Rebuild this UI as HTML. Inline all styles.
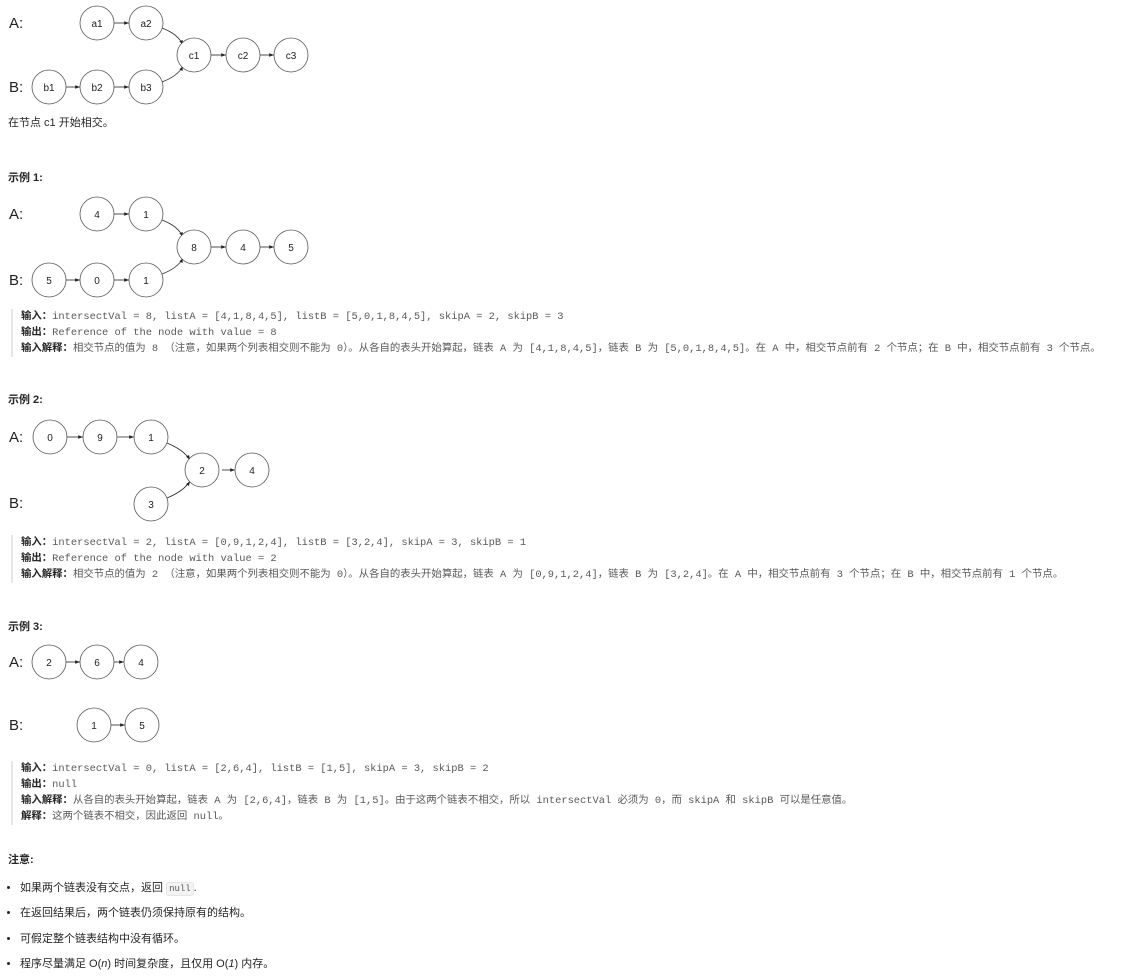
<!DOCTYPE html>
<html><head><meta charset="utf-8"><style>
body{margin:0;width:1125px;height:975px;background:#fff;position:relative;overflow:hidden;font-family:"Liberation Sans","Noto Sans CJK SC",sans-serif;color:#262626;}
.t{position:absolute;white-space:nowrap;font-size:11px;line-height:15px;}
.b{font-weight:bold;}
.pre{position:absolute;left:11px;border-left:2px solid #e5e5e5;padding-left:8px;font-family:"Liberation Mono","Noto Sans CJK SC",monospace;font-size:10.4px;line-height:15px;color:#595959;white-space:pre;}
.pre b{color:#262626;font-family:"Liberation Sans","Noto Sans CJK SC",sans-serif;}
ul{position:absolute;left:0;top:878px;margin:0;padding:0 0 0 20px;font-size:11px;}
li{height:25.3px;line-height:20px;}
code{font-family:"Liberation Mono",monospace;font-size:9px;background:#f3f3f3;border:1px solid #e5e5e5;border-radius:3px;padding:1px 2px;color:#595959;}
svg{position:absolute;left:0;top:0;}
svg text{font-family:"Liberation Sans",sans-serif;}
</style></head><body>
<svg width="1125" height="975">
<defs><marker id="ar" markerWidth="6" markerHeight="6" refX="6" refY="3" orient="auto"><path d="M0,0.8 L6,3 L0,5.2z" fill="#222"/></marker></defs>
<g fill="none" stroke="#222" stroke-width="0.8" marker-end="url(#ar)">
<line x1="114" y1="23" x2="129" y2="23"/><line x1="66" y1="87" x2="80" y2="87"/><line x1="114" y1="87" x2="129" y2="87"/>
<line x1="211" y1="55" x2="226" y2="55"/><line x1="260" y1="55" x2="274" y2="55"/>
<path d="M162,28 Q178,34 183,45"/><path d="M162,82 Q178,76 183,66"/>
<line x1="114" y1="214" x2="129" y2="214"/><line x1="66" y1="280" x2="80" y2="280"/><line x1="114" y1="280" x2="129" y2="280"/>
<line x1="211" y1="247" x2="226" y2="247"/><line x1="260" y1="247" x2="274" y2="247"/>
<path d="M162,220 Q178,226 183,237"/><path d="M162,274 Q178,268 183,258"/>
<line x1="67" y1="437" x2="83" y2="437"/><line x1="117" y1="437" x2="134" y2="437"/><line x1="222" y1="470" x2="235" y2="470"/>
<path d="M167,443 Q184,450 190,460"/><path d="M167,498 Q184,491 190,481"/>
<line x1="66" y1="662" x2="80" y2="662"/><line x1="114" y1="662" x2="124" y2="662"/><line x1="111" y1="725" x2="125" y2="725"/>
</g>
<g fill="#fff" stroke="#555" stroke-width="0.8">
<circle cx="97" cy="23" r="17"/><circle cx="146" cy="23" r="17"/><circle cx="194" cy="55" r="17"/><circle cx="243" cy="55" r="17"/><circle cx="291" cy="55" r="17"/><circle cx="49" cy="87" r="17"/><circle cx="97" cy="87" r="17"/><circle cx="146" cy="87" r="17"/>
<circle cx="97" cy="214" r="17"/><circle cx="146" cy="214" r="17"/><circle cx="194" cy="247" r="17"/><circle cx="243" cy="247" r="17"/><circle cx="291" cy="247" r="17"/><circle cx="49" cy="280" r="17"/><circle cx="97" cy="280" r="17"/><circle cx="146" cy="280" r="17"/>
<circle cx="50" cy="437" r="17"/><circle cx="100" cy="437" r="17"/><circle cx="151" cy="437" r="17"/><circle cx="202" cy="470" r="17"/><circle cx="252" cy="470" r="17"/><circle cx="151" cy="504" r="17"/>
<circle cx="49" cy="662" r="17"/><circle cx="97" cy="662" r="17"/><circle cx="141" cy="662" r="17"/><circle cx="94" cy="725" r="17"/><circle cx="142" cy="725" r="17"/>
</g>
<g font-size="10" fill="#222" text-anchor="middle">
<text x="97" y="27">a1</text><text x="146" y="27">a2</text><text x="194" y="59">c1</text><text x="243" y="59">c2</text><text x="291" y="59">c3</text><text x="49" y="91">b1</text><text x="97" y="91">b2</text><text x="146" y="91">b3</text>
<text x="97" y="218">4</text><text x="146" y="218">1</text><text x="194" y="251">8</text><text x="243" y="251">4</text><text x="291" y="251">5</text><text x="49" y="284">5</text><text x="97" y="284">0</text><text x="146" y="284">1</text>
<text x="50" y="441">0</text><text x="100" y="441">9</text><text x="151" y="441">1</text><text x="202" y="474">2</text><text x="252" y="474">4</text><text x="151" y="508">3</text>
<text x="49" y="666">2</text><text x="97" y="666">6</text><text x="141" y="666">4</text><text x="94" y="729">1</text><text x="142" y="729">5</text>
</g>
<g font-size="15" fill="#222">
<text x="9" y="28">A:</text><text x="9" y="92">B:</text>
<text x="9" y="219">A:</text><text x="9" y="285">B:</text>
<text x="9" y="442">A:</text><text x="9" y="508">B:</text>
<text x="9" y="667">A:</text><text x="9" y="730">B:</text>
</g>
</svg>
<div class="t" style="left:8px;top:116px;">在节点 c1 开始相交。</div>
<div class="t b" style="left:8px;top:171px;">示例 1:</div>
<div class="pre" style="top:309px;"><b>输入：</b>intersectVal = 8, listA = [4,1,8,4,5], listB = [5,0,1,8,4,5], skipA = 2, skipB = 3
<b>输出：</b>Reference of the node with value = 8
<b>输入解释：</b>相交节点的值为 8 （注意，如果两个列表相交则不能为 0）。从各自的表头开始算起，链表 A 为 [4,1,8,4,5]，链表 B 为 [5,0,1,8,4,5]。在 A 中，相交节点前有 2 个节点；在 B 中，相交节点前有 3 个节点。</div>
<div class="t b" style="left:8px;top:393px;">示例 2:</div>
<div class="pre" style="top:535px;"><b>输入：</b>intersectVal = 2, listA = [0,9,1,2,4], listB = [3,2,4], skipA = 3, skipB = 1
<b>输出：</b>Reference of the node with value = 2
<b>输入解释：</b>相交节点的值为 2 （注意，如果两个列表相交则不能为 0）。从各自的表头开始算起，链表 A 为 [0,9,1,2,4]，链表 B 为 [3,2,4]。在 A 中，相交节点前有 3 个节点；在 B 中，相交节点前有 1 个节点。</div>
<div class="t b" style="left:8px;top:620px;">示例 3:</div>
<div class="pre" style="top:761px;"><b>输入：</b>intersectVal = 0, listA = [2,6,4], listB = [1,5], skipA = 3, skipB = 2
<b>输出：</b>null
<b>输入解释：</b>从各自的表头开始算起，链表 A 为 [2,6,4]，链表 B 为 [1,5]。由于这两个链表不相交，所以 intersectVal 必须为 0，而 skipA 和 skipB 可以是任意值。
<b>解释：</b>这两个链表不相交，因此返回 null。</div>
<div class="t b" style="left:8px;top:853px;">注意:</div>
<ul>
<li>如果两个链表没有交点，返回 <code>null</code>.</li>
<li>在返回结果后，两个链表仍须保持原有的结构。</li>
<li>可假定整个链表结构中没有循环。</li>
<li>程序尽量满足 O(<i>n</i>) 时间复杂度，且仅用 O(<i>1</i>) 内存。</li>
</ul>
</body></html>
